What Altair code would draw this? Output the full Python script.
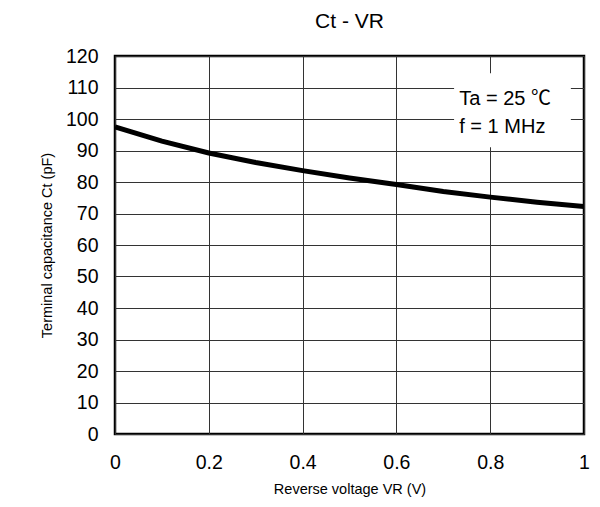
import altair as alt
import pandas as pd

vr = [0.0, 0.1, 0.2, 0.3, 0.4, 0.5, 0.6, 0.7, 0.8, 0.9, 1.0]
ct = [97.5, 93.0, 89.2, 86.2, 83.6, 81.3, 79.2, 77.0, 75.2, 73.6, 72.2]

x_ticks = [0, 0.2, 0.4, 0.6, 0.8, 1.0]
y_ticks = list(range(0, 121, 10))

note_lines = ["Ta = 25 ℃", "f = 1 MHz"]
note_x = [0.734, 0.734]
note_y = [106.4, 97.4]
box = {"x": [0.723], "x2": [0.972], "y": [91.0], "y2": [114.5]}

FONT = "Liberation Sans"
NOTE_FONT = "Liberation Sans, Noto Sans CJK JP"

df = pd.DataFrame({"vr": vr, "ct": ct})
notes = pd.DataFrame({"t": note_lines, "x": note_x, "y": note_y})
boxdf = pd.DataFrame(box)

xs = alt.Scale(domain=[0, 1], nice=False, zero=False)
ys = alt.Scale(domain=[0, 120], nice=False)

common = dict(grid=True, gridColor="#333333", gridWidth=1, ticks=False, domain=False,
              labelFontSize=19.5, labelFont=FONT, labelColor="black", labelOverlap=False,
              labelFlush=False, titleFont=FONT, titleFontSize=14.5,
              titleFontWeight="normal", titleColor="black")

x_axis = alt.Axis(values=x_ticks, format="~g", title="Reverse voltage VR (V)",
                  labelPadding=19, titlePadding=11, **common)
y_axis = alt.Axis(values=y_ticks, title="Terminal capacitance Ct (pF)",
                  labelPadding=17, titlePadding=11, **common)

line = alt.Chart(df).mark_line(color="black", strokeWidth=5, clip=True).encode(
    x=alt.X("vr:Q", scale=xs, axis=x_axis),
    y=alt.Y("ct:Q", scale=ys, axis=y_axis),
)

rect = alt.Chart(boxdf).mark_rect(fill="white").encode(
    x=alt.X("x:Q", scale=xs, axis=x_axis), x2="x2:Q",
    y=alt.Y("y:Q", scale=ys, axis=y_axis), y2="y2:Q"
)

text = alt.Chart(notes).mark_text(align="left", baseline="middle", fontSize=20,
                                  font=NOTE_FONT, color="black").encode(
    x=alt.X("x:Q", scale=xs, axis=x_axis),
    y=alt.Y("y:Q", scale=ys, axis=y_axis),
    text="t:N"
)

chart = alt.layer(line, rect, text).properties(
    width=469, height=378,
    title=alt.TitleParams("Ct - VR", fontSize=21, font=FONT, fontWeight="normal",
                          color="black", offset=14),
    autosize=alt.AutoSizeParams(type="none"),
    padding={"left": 107, "top": 48, "right": 8, "bottom": 65},
).configure_view(stroke="black", strokeWidth=2.5)

chart.save("out.html", embed_options={"renderer": "svg", "actions": False})
